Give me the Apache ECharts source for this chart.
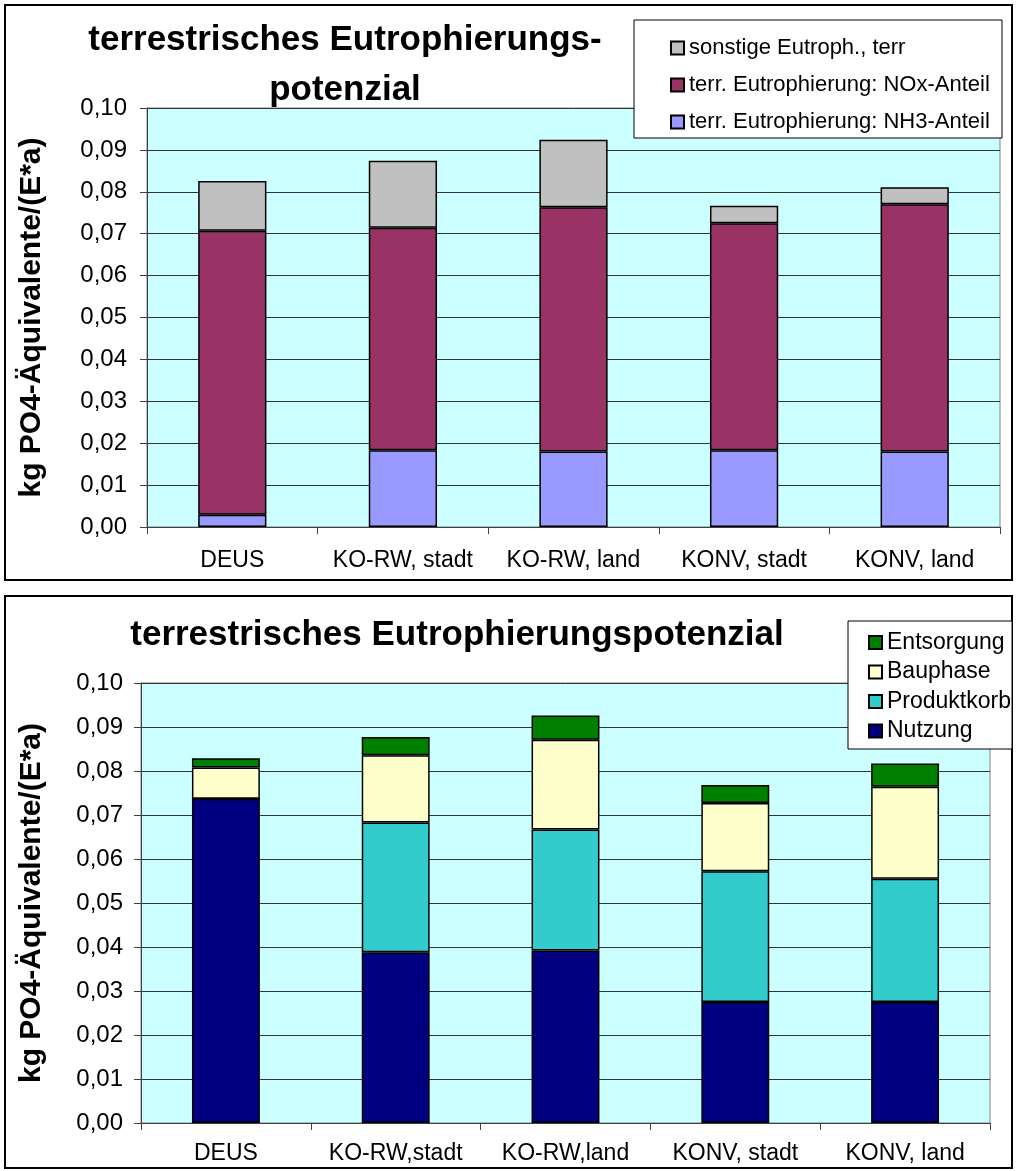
<!DOCTYPE html>
<html>
<head>
<meta charset="utf-8">
<script src="https://cdn.jsdelivr.net/npm/echarts@6/dist/echarts.min.js"></script>
<style>
  html, body { margin: 0; padding: 0; background: #ffffff; }
  #chart { width: 1016px; height: 1171px; }
</style>
</head>
<body>
<div id="chart"></div>
<script>
// Categories of the two stacked-bar panels
const categoriesTop = ['DEUS', 'KO-RW, stadt', 'KO-RW, land', 'KONV, stadt', 'KONV, land'];
const categoriesBottom = ['DEUS', 'KO-RW,stadt', 'KO-RW,land', 'KONV, stadt', 'KONV, land'];

// Upper panel: shares of terrestrial eutrophication (kg PO4-eq per inhabitant and year)
const nh3Share = [0.0029, 0.0183, 0.0180, 0.0183, 0.0180];
const noxShare = [0.0678, 0.0531, 0.0583, 0.0542, 0.0590];
const otherTerr = [0.0119, 0.0160, 0.0161, 0.0042, 0.0041];

// Lower panel: contributions by life-cycle phase
const nutzung = [0.0737, 0.0388, 0.0392, 0.0275, 0.0275];
const produktkorb = [0, 0.0295, 0.0275, 0.0297, 0.0280];
const bauphase = [0.0071, 0.0153, 0.0204, 0.0155, 0.0209];
const entsorgung = [0.0021, 0.0041, 0.0055, 0.0041, 0.0053];

// Value axis range
const yMin = 0, yMax = 0.10, yStep = 0.01;

const FONT = '"Liberation Sans", Arial, sans-serif';
const fmt = v => v.toFixed(2).replace('.', ',');

function valueAxis(gridIndex, nameGap, labelMargin) {
  return {
    type: 'value', gridIndex, min: yMin, max: yMax, interval: yStep,
    name: 'kg PO4-Äquivalente/(E*a)', nameLocation: 'middle', nameRotate: 90, nameGap,
    nameTextStyle: { fontFamily: FONT, fontWeight: 'bold', fontSize: 30, color: '#000' },
    axisLine: { show: true, lineStyle: { color: '#404040', width: 1 } },
    axisTick: { show: true, length: 7, lineStyle: { color: '#404040' } },
    axisLabel: { formatter: fmt, fontFamily: FONT, fontSize: 24, color: '#000', margin: labelMargin },
    splitLine: { show: true, lineStyle: { color: '#333333', width: 1 } }
  };
}
function catAxis(gridIndex, data, margin) {
  return {
    type: 'category', gridIndex, data,
    axisLine: { show: true, lineStyle: { color: '#404040', width: 1 } },
    axisTick: { show: true, length: 7, lineStyle: { color: '#404040' } },
    axisLabel: { interval: 0, fontFamily: FONT, fontSize: 23, color: '#000', margin }
  };
}
function barSeries(name, data, color, axisIdx, stack) {
  return {
    name, type: 'bar', data, stack, xAxisIndex: axisIdx, yAxisIndex: axisIdx,
    barWidth: '40%',
    itemStyle: { color, borderColor: '#000', borderWidth: 1.5 },
    emphasis: { disabled: true }
  };
}

const chart = echarts.init(document.getElementById('chart'), null, { renderer: 'canvas' });
chart.setOption({
  animation: false,
  backgroundColor: '#ffffff',
  title: [
    { text: 'terrestrisches Eutrophierungs-\npotenzial', left: 340, top: 10, textAlign: 'center',
      textStyle: { fontFamily: FONT, fontWeight: 'bold', fontSize: 35, lineHeight: 50, color: '#000' } },
    { text: 'terrestrisches Eutrophierungspotenzial', left: 452, top: 613, textAlign: 'center',
      textStyle: { fontFamily: FONT, fontWeight: 'bold', fontSize: 35, color: '#000' } }
  ],
  graphic: [
    // panel frames
    { type: 'rect', shape: { x: 5, y: 5, width: 1007, height: 575 }, style: { fill: 'none', stroke: '#000', lineWidth: 2 }, z: 0 },
    { type: 'rect', shape: { x: 5, y: 596, width: 1007, height: 572 }, style: { fill: 'none', stroke: '#000', lineWidth: 2 }, z: 0 },
    // legend boxes
    { type: 'rect', shape: { x: 634, y: 20, width: 368, height: 118 }, style: { fill: '#fff', stroke: '#000', lineWidth: 1 }, z: 10 },
    { type: 'rect', shape: { x: 848, y: 621, width: 164, height: 128 }, style: { fill: '#fff', stroke: '#000', lineWidth: 1 }, z: 10 }
  ],
  legend: [
    { data: ['sonstige Eutroph., terr', 'terr. Eutrophierung: NOx-Anteil', 'terr. Eutrophierung: NH3-Anteil'],
      orient: 'vertical', left: 665, top: 32, itemGap: 15, itemWidth: 13, itemHeight: 13, z: 20,
      icon: 'rect', selectedMode: false,
      textStyle: { fontFamily: FONT, fontSize: 22, color: '#000' } },
    { data: ['Entsorgung', 'Bauphase', 'Produktkorb', 'Nutzung'],
      orient: 'vertical', left: 863, top: 626, itemGap: 6.5, itemWidth: 13, itemHeight: 13, z: 20,
      icon: 'rect', selectedMode: false,
      textStyle: { fontFamily: FONT, fontSize: 23, color: '#000' } }
  ],
  grid: [
    { left: 147, top: 108, width: 853, height: 419, show: true, backgroundColor: '#CCFFFF', borderColor: '#808080', borderWidth: 1 },
    { left: 141, top: 683, width: 849, height: 440, show: true, backgroundColor: '#CCFFFF', borderColor: '#808080', borderWidth: 1 }
  ],
  xAxis: [catAxis(0, categoriesTop, 22), catAxis(1, categoriesBottom, 19)],
  yAxis: [valueAxis(0, 100, 20), valueAxis(1, 94, 18)],
  series: [
    barSeries('terr. Eutrophierung: NH3-Anteil', nh3Share, '#9999FF', 0, 'top'),
    barSeries('terr. Eutrophierung: NOx-Anteil', noxShare, '#993366', 0, 'top'),
    barSeries('sonstige Eutroph., terr', otherTerr, '#C0C0C0', 0, 'top'),
    barSeries('Nutzung', nutzung, '#000080', 1, 'bottom'),
    barSeries('Produktkorb', produktkorb, '#33CCCC', 1, 'bottom'),
    barSeries('Bauphase', bauphase, '#FFFFCC', 1, 'bottom'),
    barSeries('Entsorgung', entsorgung, '#008000', 1, 'bottom')
  ]
});
</script>
</body>
</html>
